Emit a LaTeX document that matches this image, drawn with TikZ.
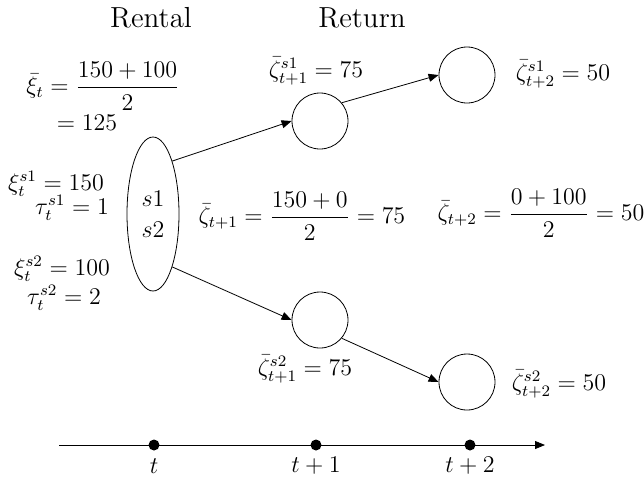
\documentclass[tikz,border=0pt]{standalone}
\usepackage{amsmath}
\usetikzlibrary{shapes.geometric,arrows.meta}

\begin{document}
\begin{tikzpicture}[x=0.5pt, y=-0.5pt, >={Triangle[length=5pt,width=4pt]},
    every node/.style={font=\fontsize{11.5}{14}\selectfont, inner sep=0.5pt},
    head/.style={font=\fontsize{14.5}{17}\selectfont},
    scen/.style={draw, circle, minimum size=28pt, inner sep=0pt, line width=0.4pt},
    tick/.style={circle, fill=black, minimum size=5.5pt, inner sep=0pt},
    link/.style={->, line width=0.4pt}]
    \useasboundingbox (0,0) rectangle (644,479);

    % headings
    \node[head] (rental) at (151,18) {Rental};
    \node[head] (return) at (362,18) {Return};

    % rental side
    \node (xibar) at (103,86) {$\bar{\xi}_t = \dfrac{150+100}{2}$};
    \node (xival) at (87,123) {$= 125$};
    \node (xi1)  at (56,184) {$\xi_t^{s1} = 150$};
    \node (tau1) at (72,208) {$\tau_t^{s1} = 1$};
    \node (xi2)  at (62,269) {$\xi_t^{s2} = 100$};
    \node (tau2) at (64,298) {$\tau_t^{s2} = 2$};

    \node[draw, ellipse, minimum width=26pt, minimum height=77pt, inner sep=0pt,
        align=center, line width=0.4pt] (ell) at (153,214) {$s1$\\[1.5pt]$s2$};

    % return side
    \node[scen] (a1) at (320,121) {};
    \node[scen] (a2) at (467,75) {};
    \node[scen] (b1) at (320,320) {};
    \node[scen] (b2) at (467,382) {};

    \draw[link] (ell.70) -- (a1.west);
    \draw[link] (a1.40) -- (a2.west);
    \draw[link] (ell.-70) -- (b1.west);
    \draw[link] (b1.-40) -- (b2.west);

    \node (za1) at (316,71) {$\bar{\zeta}_{t+1}^{s1} = 75$};
    \node (za2) at (563,74) {$\bar{\zeta}_{t+2}^{s1} = 50$};
    \node (zb1) at (305,369) {$\bar{\zeta}_{t+1}^{s2} = 75$};
    \node (zb2) at (559,384) {$\bar{\zeta}_{t+2}^{s2} = 50$};
    \node (zm1) at (302,216) {$\bar{\zeta}_{t+1} = \dfrac{150+0}{2} = 75$};
    \node (zm2) at (541,213) {$\bar{\zeta}_{t+2} = \dfrac{0+100}{2} = 50$};

    % time axis
    \coordinate (ax0) at (59,445);
    \coordinate (ax1) at (545,445);
    \draw[->, line width=0.4pt] (ax0) -- (ax1);
    \node[tick] (t0) at (154,445) {};
    \node[tick] (t1) at (316,445) {};
    \node[tick] (t2) at (470,445) {};
    \node (lt0) at (154,466) {$t$};
    \node (lt1) at (316,466) {$t+1$};
    \node (lt2) at (470,466) {$t+2$};
\end{tikzpicture}
\end{document}
